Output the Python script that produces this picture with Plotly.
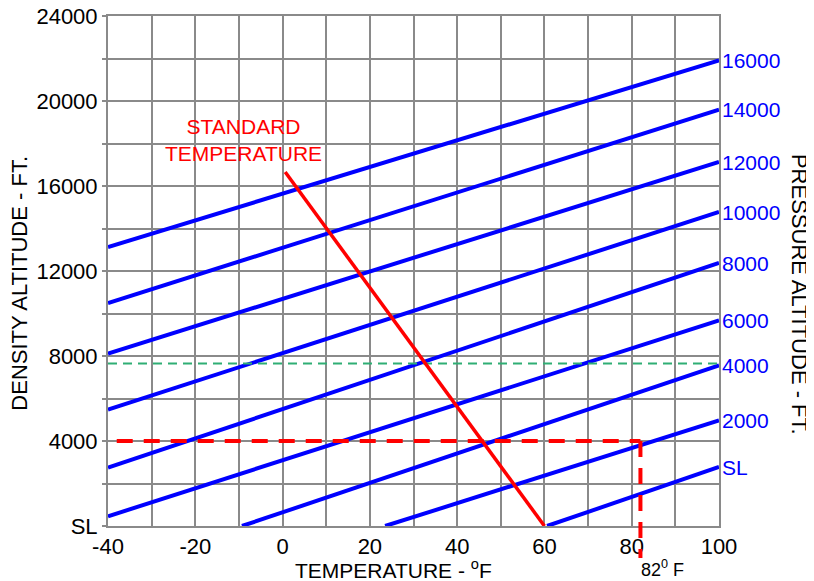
import plotly.graph_objects as go

# ---- data ----
x_ticks = [-40, -30, -20, -10, 0, 10, 20, 30, 40, 50, 60, 70, 80, 90, 100]
y_ticks = [0, 2000, 4000, 6000, 8000, 10000, 12000, 14000, 16000, 18000, 20000, 22000, 24000]

pa_labels = ["SL", "2000", "4000", "6000", "8000", "10000", "12000", "14000", "16000"]
pa_start_temp = [60.6, 23.5, -9.3, -40, -40, -40, -40, -40, -40]
pa_start_da = [0, 0, 0, 456, 2748, 5478, 8113, 10494, 13129]
pa_end_temp = [100, 100, 100, 100, 100, 100, 100, 100, 100]
pa_end_da = [2776, 4974, 7562, 9680, 12376, 14776, 17129, 19595, 21915]

std_temp = [60, 0.6]
std_da = [0, 16660]

check_temp = 82
check_da = 4000
check_start_temp = -38
check_below_da = -1500

green_da = 7650
green_temp = [-40, 100]

x_range = [-40, 100]
y_range = [0, 24000]

BLUE = "#0000ff"
RED = "#ff0000"
GRID = "#8a8a8a"
FONT = "Liberation Sans, Arial, sans-serif"

fig = go.Figure()

# pressure altitude lines
for xs, ys, xe, ye in zip(pa_start_temp, pa_start_da, pa_end_temp, pa_end_da):
    fig.add_trace(go.Scatter(x=[xs, xe], y=[ys, ye], mode="lines",
                             line=dict(color=BLUE, width=4),
                             showlegend=False, hoverinfo="skip"))

# green dashed line
fig.add_trace(go.Scatter(x=green_temp, y=[green_da, green_da], mode="lines",
                         line=dict(color="#2fae74", width=2, dash="9px,6px"),
                         showlegend=False, hoverinfo="skip"))

# standard temperature line
fig.add_trace(go.Scatter(x=std_temp, y=std_da, mode="lines",
                         line=dict(color=RED, width=3.5),
                         showlegend=False, hoverinfo="skip"))

# red dashed horizontal at check altitude
fig.add_trace(go.Scatter(x=[check_start_temp, check_temp], y=[check_da, check_da], mode="lines",
                         line=dict(color=RED, width=4, dash="16px,11px"),
                         showlegend=False, hoverinfo="skip"))

# red dashed vertical (extends below axis)
def to_paper(v):
    return (v - y_range[0]) / (y_range[1] - y_range[0])

fig.add_shape(type="line", xref="x", yref="paper",
              x0=check_temp, x1=check_temp,
              y0=to_paper(check_da), y1=to_paper(check_below_da),
              line=dict(color=RED, width=4, dash="16px,11px"))

# right-side labels of pressure altitude lines
for lab, xe, ye in zip(pa_labels, pa_end_temp, pa_end_da):
    fig.add_annotation(x=xe, y=ye, xref="x", yref="y", text=lab,
                       showarrow=False, xanchor="left", yanchor="middle", xshift=1,
                       font=dict(family=FONT, size=21, color=BLUE))

# standard temperature label
fig.add_annotation(x=-9, y=18150, xref="x", yref="y", text="STANDARD<br>TEMPERATURE",
                   showarrow=False, xanchor="center", yanchor="middle", align="center",
                   font=dict(family=FONT, size=21, color=RED))

# 82 F label
fig.add_annotation(x=check_temp, y=-0.084, xref="x", yref="paper",
                   text="82<sup>0</sup> F",
                   showarrow=False, xanchor="left", yanchor="middle", xshift=-1,
                   font=dict(family=FONT, size=18, color="black"))

# axis titles
fig.add_annotation(x=-0.145, y=0.476, xref="paper", yref="paper",
                   text="DENSITY ALTITUDE - FT.", textangle=-90, showarrow=False,
                   xanchor="center", yanchor="middle",
                   font=dict(family=FONT, size=22, color="black"))
fig.add_annotation(x=1.131, y=0.455, xref="paper", yref="paper",
                   text="PRESSURE ALTITUDE - FT.", textangle=90, showarrow=False,
                   xanchor="center", yanchor="middle",
                   font=dict(family=FONT, size=22, color="black"))
fig.add_annotation(x=0.467, y=-0.084, xref="paper", yref="paper",
                   text="TEMPERATURE - <sup>o</sup>F", showarrow=False,
                   xanchor="center", yanchor="middle",
                   font=dict(family=FONT, size=21, color="black"))

x_text = [str(v) if v % 20 == 0 else "" for v in x_ticks]
y_text = [("SL" if v == 0 else str(v)) if v % 4000 == 0 else "" for v in y_ticks]

fig.update_xaxes(range=x_range, tickvals=x_ticks, ticktext=x_text, automargin=False,
                 ticklabeloverflow="allow",
                 showgrid=True, gridcolor=GRID, gridwidth=2,
                 showline=True, linecolor=GRID, linewidth=2, mirror=True,
                 zeroline=False, ticks="", tickfont=dict(family=FONT, size=22, color="black"))
fig.update_yaxes(range=y_range, tickvals=y_ticks, ticktext=y_text, automargin=False,
                 ticklabeloverflow="allow",
                 showgrid=True, gridcolor=GRID, gridwidth=2,
                 showline=True, linecolor=GRID, linewidth=2, mirror=True,
                 zeroline=False, ticks="outside", ticklen=4, tickcolor=GRID, tickwidth=2,
                 tickfont=dict(family=FONT, size=22, color="black"))

# the page body adds an 8px offset; size the figure so the plot lands where the reference has it
fig.update_layout(width=806, height=573, autosize=False,
                  margin=dict(l=100, r=95, t=8, b=55),
                  plot_bgcolor="white", paper_bgcolor="white",
                  font=dict(family=FONT))

fig.write_html("out.html")
